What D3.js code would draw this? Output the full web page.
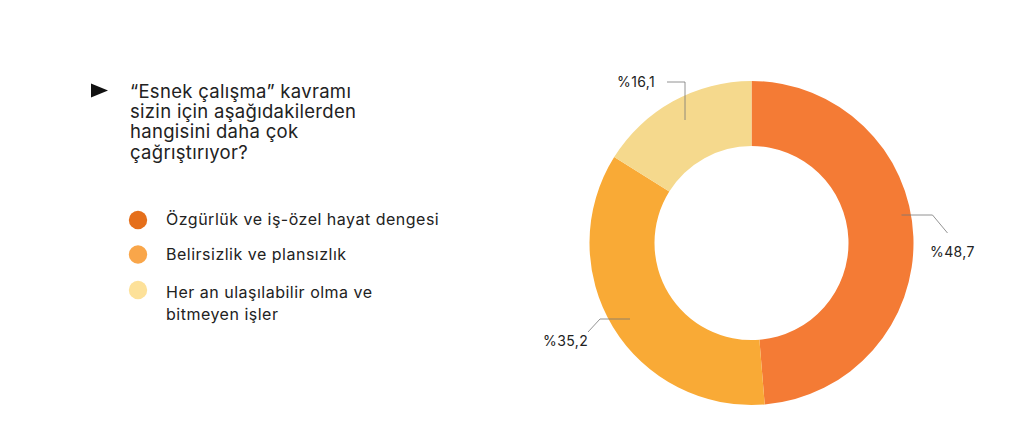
<!DOCTYPE html>
<html><head><meta charset="utf-8">
<script src="https://cdn.jsdelivr.net/npm/d3@7/dist/d3.min.js"></script>
<style>
html,body{margin:0;padding:0;background:#fff;}
svg{display:block;font-family:"Inter","Noto Sans",sans-serif;}
</style></head>
<body>
<svg id="chart" width="1024" height="446"></svg>
<script>
const titleLines = ["“Esnek çalışma” kavramı","sizin için aşağıdakilerden","hangisini daha çok","çağrıştırıyor?"];
const categories = ["Özgürlük ve iş-özel hayat dengesi","Belirsizlik ve plansızlık","Her an ulaşılabilir olma ve|bitmeyen işler"];
const values = [48.7, 35.2, 16.1];
const valueLabels = ["%48,7","%35,2","%16,1"];
const sliceColors = ["#F47B35","#F9AA36","#F5D98D"];
const legendColors = ["#E56F1B","#F9A64A","#FDE199"];

const svg = d3.select("#chart");

// Title
svg.append("path").attr("d","M91,83.5 L108,90.5 L91,97.5 Z").attr("fill","#111");
const title = svg.append("text").attr("font-size",18.5).attr("fill","#222").attr("letter-spacing",0.3);
titleLines.forEach((t,i)=>title.append("tspan").attr("x",130).attr("y",98+i*20.2).text(t));

// Legend
const legendY = d3.scaleOrdinal().domain(categories).range([220,254.5,290]);
const textDy = [5,5,7.5];
const lg = svg.append("g").selectAll("g").data(categories).join("g")
  .attr("transform",d=>`translate(0,${legendY(d)})`);
lg.append("circle").attr("cx",138).attr("cy",0).attr("r",9.2).attr("fill",(d,i)=>legendColors[i]);
lg.append("text").attr("font-size",16).attr("fill","#222").attr("letter-spacing",0.5)
  .each(function(d,i){
    const parts=d.split("|");
    parts.forEach((p,j)=>d3.select(this).append("tspan").attr("x",166).attr("y",textDy[i]+j*22.5).text(p));
  });

// Donut
const cx=751.5, cy=243, R=162, r=97;
const pie = d3.pie().sort(null).value(d=>d)(values);
const arc = d3.arc().innerRadius(r).outerRadius(R);
const g = svg.append("g").attr("transform",`translate(${cx},${cy})`);
g.selectAll("path").data(pie).join("path").attr("d",arc).attr("fill",(d,i)=>sliceColors[i]);

// Leader lines & labels
const leaders = [
  {pts:(p)=>[[p[0],p[1]],[p[0]+31,p[1]],[p[0]+46,p[1]+18]], lx:930, ly:257},
  {pts:(p)=>[[p[0],p[1]],[p[0]-30,p[1]],[p[0]-42,p[1]+13]], lx:543, ly:346},
  {pts:(p)=>[[p[0],p[1]],[p[0],p[1]-38],[p[0]-18,p[1]-38]], lx:617, ly:87}
];
const anchorPts = [[901.5-cx,215-cy],[630-cx,319-cy],[685-cx,120-cy]];
pie.forEach((d,i)=>{
  const pts = leaders[i].pts(anchorPts[i]);
  g.append("path").attr("d",d3.line()(pts)).attr("fill","none").attr("stroke","#777").attr("stroke-width",0.8);
  svg.append("text").attr("x",leaders[i].lx).attr("y",leaders[i].ly).attr("font-size",14).attr("fill","#222")
    .attr("letter-spacing",0.4).text(valueLabels[i]);
});
</script>
</body></html>
